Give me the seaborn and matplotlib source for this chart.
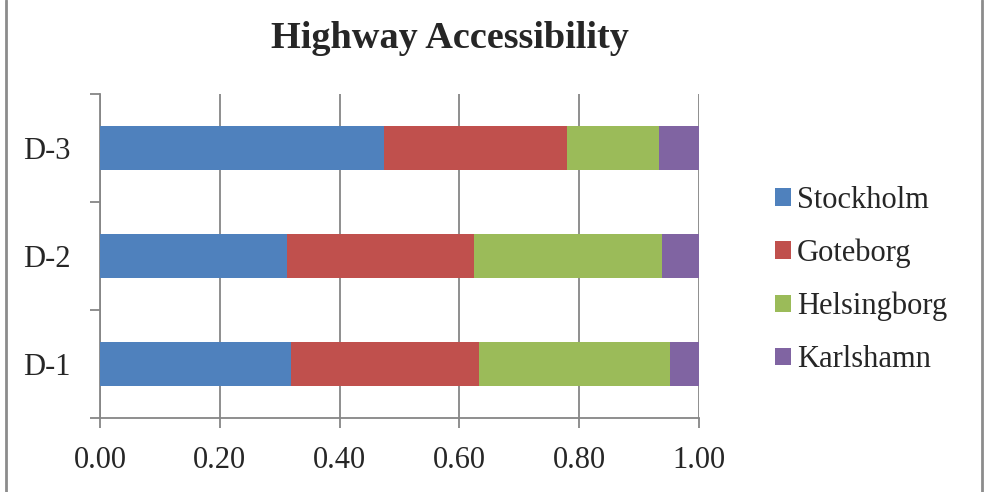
import matplotlib
matplotlib.use("Agg")
import matplotlib.pyplot as plt
import seaborn as sns
import pandas as pd
import numpy as np
from matplotlib.lines import Line2D
from matplotlib.patches import Patch

categories = ["D-3", "D-2", "D-1"]
series = ["Stockholm", "Goteborg", "Helsingborg", "Karlshamn"]
stockholm = [0.474, 0.312, 0.319]
goteborg = [0.306, 0.312, 0.314]
helsingborg = [0.153, 0.314, 0.319]
karlshamn = [0.067, 0.062, 0.048]
colors = ["#4F81BD", "#C0504D", "#9BBB59", "#8064A2"]
xticks = [0.0, 0.2, 0.4, 0.6, 0.8, 1.0]

sns.set_style("white")
plt.rcParams["font.family"] = ["Liberation Serif", "DejaVu Serif"]

fig = plt.figure(figsize=(9.93, 4.92), dpi=100)
ax = fig.add_axes([100/993, 1-418/492, 599/993, 324/492])

vals = [stockholm, goteborg, helsingborg, karlshamn]
cum = np.cumsum(np.array(vals), axis=0)
# draw from the largest cumulative total down so earlier series overlay
for i in range(len(series) - 1, -1, -1):
    df = pd.DataFrame({"cat": categories, "val": cum[i]})
    sns.barplot(data=df, x="val", y="cat", order=categories, orient="h",
                color=colors[i], width=0.4, saturation=1, ax=ax, zorder=3,
                linewidth=0)

ax.set_xlim(0, 1.0)
ax.set_ylim(2.5, -0.5)
ax.set_xticks(xticks)
ax.set_xticklabels([f"{t:.2f}" for t in xticks], fontsize=22)
ax.set_yticks(range(len(categories)))
ax.set_yticklabels(categories, fontsize=22)
ax.set_yticks([-0.5, 0.5, 1.5, 2.5], minor=True)
ax.tick_params(axis="y", which="major", length=0, pad=21)
ax.tick_params(axis="y", which="minor", length=7, width=1.3, color="#868686", left=True)
ax.tick_params(axis="x", which="major", length=7, width=1.3, color="#868686",
               bottom=True, pad=13)
ax.set_xlabel("")
ax.set_ylabel("")
ax.grid(axis="x", color="#868686", linewidth=1.3, zorder=0)
ax.set_axisbelow(True)
for s in ["top", "right"]:
    ax.spines[s].set_visible(False)
for s in ["left", "bottom"]:
    ax.spines[s].set_color("#868686")
    ax.spines[s].set_linewidth(1.3)

handles = [Patch(facecolor=c, edgecolor="none", label=l) for c, l in zip(colors, series)]
leg = fig.legend(handles=handles, loc="center left", bbox_to_anchor=(775/993, 1-280/492),
                 frameon=False, fontsize=22, handlelength=0.52, handleheight=0.52,
                 handletextpad=0.2, labelspacing=0.78, borderpad=0, borderaxespad=0)

fig.text(450/993, 1-38/492, "Highway Accessibility", ha="center", va="center",
         fontsize=27.5, fontweight="bold")

for x in [6/993, 982/993]:
    fig.add_artist(Line2D([x, x], [0, 1], transform=fig.transFigure,
                          color="#8c8c8c", linewidth=2))

fig.savefig("out.png", dpi=100)
